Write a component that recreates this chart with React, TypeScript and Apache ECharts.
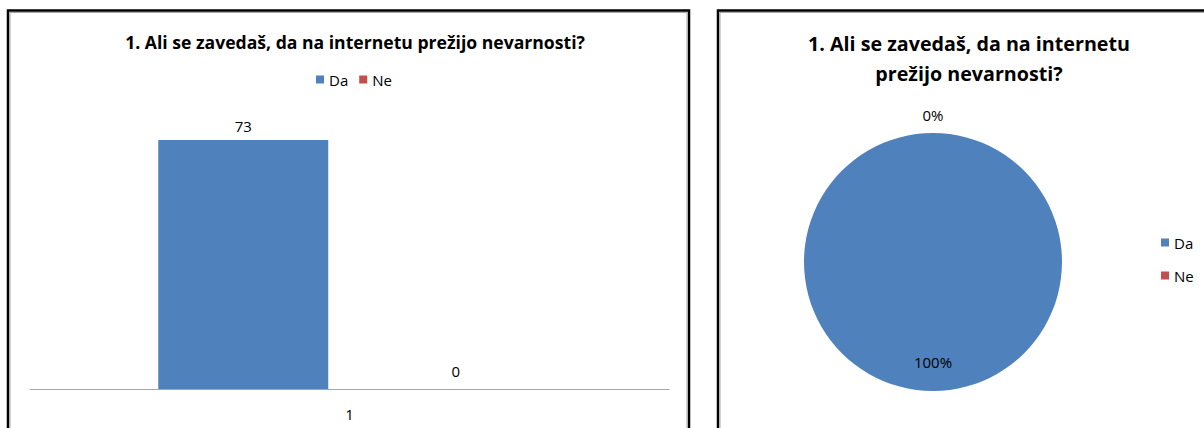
import React, { useEffect, useRef } from "react";
import * as echarts from "echarts";

const titleText = "1. Ali se zavedaš, da na internetu prežijo nevarnosti?";
const pieTitleLines = ["1. Ali se zavedaš, da na internetu", "prežijo nevarnosti?"];
const categories = ["1"];
const seriesNames = ["Da", "Ne"];
const daValues = [73];
const neValues = [0];
const pieValues = [73, 0];
const colors = ["#4F81BD", "#C0504D"];

const FONT = "'Open Sans', 'Noto Sans', sans-serif";

export default function App() {
  const ref = useRef<HTMLDivElement>(null);
  useEffect(() => {
    if (!ref.current) return;
    const chart = echarts.init(ref.current, undefined, { renderer: "svg" });
    chart.setOption({
      animation: false,
      textStyle: { fontFamily: FONT },
      title: [
        {
          text: titleText,
          left: 350,
          top: 28,
          textAlign: "center",
          textStyle: { fontFamily: FONT, fontSize: 17.6, fontWeight: "bold", color: "#000" },
        },
        {
          text: pieTitleLines.join("\n"),
          left: 964,
          top: 23,
          textAlign: "center",
          textStyle: { fontFamily: FONT, fontSize: 19.7, fontWeight: "bold", color: "#000", lineHeight: 30 },
        },
      ],
      legend: [
        {
          data: seriesNames,
          left: 311,
          top: 67,
          itemWidth: 8,
          itemHeight: 8,
          itemGap: 11,
          icon: "rect",
          textStyle: { fontFamily: FONT, fontSize: 15, color: "#000" },
        },
        {
          data: seriesNames.map((n) => ({ name: n })),
          orient: "vertical",
          left: 1156,
          top: 230,
          itemWidth: 8,
          itemHeight: 8,
          itemGap: 18,
          icon: "rect",
          textStyle: { fontFamily: FONT, fontSize: 15, color: "#000" },
        },
      ],
      grid: { left: 30, right: 1204 - 669, top: 116, bottom: 428 - 389, containLabel: false },
      xAxis: {
        type: "category",
        data: categories,
        axisLine: { lineStyle: { color: "#A6A6A6", width: 1 } },
        axisTick: { show: false },
        axisLabel: { fontFamily: FONT, fontSize: 15, color: "#000", margin: 17 },
      },
      yAxis: {
        type: "value",
        min: 0,
        max: 80,
        show: false,
        splitLine: { show: false },
      },
      graphic: [
        {
          type: "rect",
          shape: { x: 8, y: 10.5, width: 681, height: 600 },
          style: { fill: "none", stroke: "#000", lineWidth: 2.5 },
        },
        {
          type: "rect",
          shape: { x: 10, y: 12.5, width: 677, height: 600 },
          style: { fill: "none", stroke: "#A6A6A6", lineWidth: 1 },
        },
        {
          type: "rect",
          shape: { x: 718, y: 10.5, width: 600, height: 600 },
          style: { fill: "none", stroke: "#000", lineWidth: 2.5 },
        },
        {
          type: "rect",
          shape: { x: 720, y: 12.5, width: 600, height: 600 },
          style: { fill: "none", stroke: "#A6A6A6", lineWidth: 1 },
        },
      ],
      series: [
        {
          name: seriesNames[0],
          type: "bar",
          data: daValues,
          barWidth: 170,
          barGap: "25%",
          itemStyle: { color: colors[0] },
          label: { show: true, position: "top", distance: 6, fontFamily: FONT, fontSize: 15, color: "#000" },
        },
        {
          name: seriesNames[1],
          type: "bar",
          data: neValues,
          barWidth: 170,
          barGap: "25%",
          itemStyle: { color: colors[1] },
          label: { show: true, position: "top", distance: 11, fontFamily: FONT, fontSize: 15, color: "#000" },
        },
        {
          type: "pie",
          center: [933, 262],
          radius: 129,
          startAngle: 90,
          clockwise: true,
          avoidLabelOverlap: false,
          stillShowZeroSum: true,
          data: seriesNames.map((n, i) => ({ name: n, value: pieValues[i], itemStyle: { color: colors[i] } })),
          label: {
            show: true,
            position: "inside",
            formatter: "{d}%",
            fontFamily: FONT,
            fontSize: 15,
            color: "#000",
          },
          labelLine: { show: false },
          labelLayout: (params: any) =>
            params.dataIndex === 0 ? { dy: 32 } : { dy: -80 },
          emphasis: { disabled: true },
        },
      ],
    });
    return () => chart.dispose();
  }, []);
  return (
    <div
      ref={ref}
      style={{ position: "absolute", left: 0, top: 0, width: 1204, height: 428, background: "#fff" }}
    />
  );
}
